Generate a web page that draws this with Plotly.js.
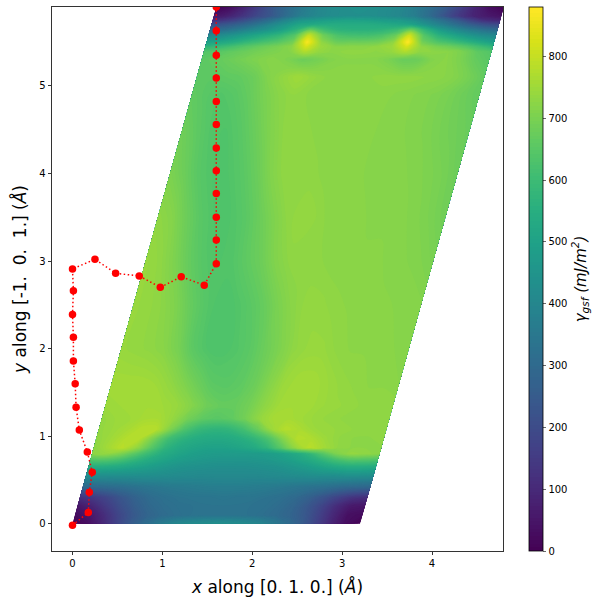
<!DOCTYPE html>
<html><head><meta charset="utf-8">
<script src="https://cdn.plot.ly/plotly-3.0.1.min.js"></script>
<style>html,body{margin:0;padding:0;background:#fff}</style></head>
<body><div id="chart" style="width:603px;height:605px"></div>
<script>
// Grid of the energy surface: fractional position along the first lattice vector, height along the second
const uFrac = [0,.05,.1,.15,.2,.25,.3,.35,.4,.45,.5,.55,.6,.65,.7,.75,.8,.85,.9,.95,1];
const yLevels = [0,.1,.2,.3,.42,.55,.65,.73,.8,.87,.97,1.08,1.2,1.35,1.6,2,2.5,3,3.5,4,4.5,4.9,5.1,5.3,5.39,5.45,5.5,5.58,5.64,5.7,5.75,5.8,5.9];
const latticeA = 3.2, latticeShear = 1.6, latticeHeight = 5.9;
const gsfValues = [
[0,30,90,170,250,310,360,400,420,430,440,430,420,400,360,310,250,170,90,30,0],
[25,50,110,180,240,280,305,320,330,335,335,335,330,320,305,280,240,170,95,35,25],
[50,90,150,210,260,295,315,325,330,335,335,335,330,325,310,285,240,180,110,60,50],
[120,150,190,240,280,310,325,335,340,340,345,340,340,330,320,300,265,220,170,130,115],
[290,300,310,320,335,345,355,360,365,370,370,370,365,360,350,340,330,320,305,295,290],
[430,430,430,430,430,425,420,415,410,410,410,410,410,415,420,425,430,430,435,435,430],
[540,540,530,510,490,470,450,440,435,430,430,430,435,440,455,475,500,525,540,540,535],
[640,640,620,580,540,510,485,470,460,455,455,455,460,475,495,525,565,610,640,640,630],
[725,735,705,650,590,540,510,490,480,475,475,475,480,495,525,570,640,705,735,730,720],
[725,755,785,735,650,570,530,510,500,500,510,530,570,650,735,785,755,730,725,725,725],
[730,750,775,780,695,610,565,540,530,530,545,575,630,715,780,770,745,730,725,725,730],
[735,745,760,780,780,705,630,585,570,575,610,670,745,780,765,745,740,735,730,730,730],
[735,745,750,760,760,735,690,660,650,660,690,735,760,760,750,740,735,730,730,730,730],
[745,750,755,755,750,740,715,685,670,670,690,725,750,755,755,745,740,735,730,730,730],
[755,755,755,750,735,710,680,655,650,660,680,715,745,755,755,745,735,730,725,725,720],
[740,735,730,720,695,655,635,630,640,655,680,705,730,740,740,730,725,725,725,720,720],
[740,735,725,705,670,645,630,635,650,670,700,722,735,735,728,725,722,722,720,720,715],
[740,730,705,670,645,635,640,660,680,710,728,732,728,722,722,722,722,718,715,710,700],
[730,715,680,650,635,635,650,675,705,728,738,732,722,722,722,718,718,716,710,700,685],
[705,680,650,635,635,650,675,710,732,732,728,722,722,722,718,718,716,712,705,695,680],
[685,660,640,635,650,675,705,726,732,726,722,722,722,722,718,716,712,706,695,685,675],
[665,650,640,650,670,698,720,732,726,722,722,722,722,722,720,716,712,706,695,680,665],
[655,655,660,665,680,712,732,750,735,725,725,725,725,730,730,730,725,722,712,692,665],
[655,665,680,695,710,718,705,680,692,712,718,718,718,702,675,678,712,722,702,670,650],
[640,650,665,680,695,705,715,770,735,722,730,730,725,735,770,730,725,720,700,660,640],
[570,590,620,650,675,695,720,825,745,720,720,720,730,745,825,730,700,680,650,610,570],
[500,520,550,590,620,650,690,870,730,680,680,680,690,730,880,690,640,610,570,530,490],
[400,420,460,500,540,580,640,800,680,625,610,610,625,670,810,640,560,510,460,420,400],
[300,325,365,410,450,500,570,670,600,565,560,560,570,600,680,570,480,420,370,330,300],
[210,240,280,330,390,450,510,530,540,540,540,540,530,520,500,440,380,320,260,215,190],
[110,150,200,260,320,390,450,470,490,500,500,495,480,470,440,380,320,250,170,110,90],
[50,80,130,190,240,310,370,400,420,430,430,430,420,400,370,310,230,150,90,60,40],
[0,30,90,170,250,310,360,400,420,430,440,430,420,400,360,310,250,170,90,30,0]
];
const pathX = [0,.176,.187,.22,.165,.076,.04,.03,.01,.01,0,.01,0,.25,.48,.743,.977,1.21,1.466,1.6,1.6,1.6,1.6,1.6,1.6,1.6,1.6,1.6,1.6,1.6,1.6];
const pathY = [-.015,.13,.36,.59,.82,1.07,1.33,1.6,1.86,2.13,2.39,2.66,2.91,3.02,2.86,2.83,2.70,2.82,2.725,2.97,3.24,3.5,3.77,4.03,4.29,4.56,4.82,5.09,5.35,5.63,5.9];
const colorbarTicks = [0,100,200,300,400,500,600,700,800];

const gridX = yLevels.map(y => uFrac.map(u => u*latticeA + y/latticeHeight*latticeShear));
const gridY = yLevels.map(y => uFrac.map(() => y));
const hiddenAxis = {showgrid:false,minorgridcount:0,showticklabels:'none',showline:false,startline:false,endline:false,smoothing:0};
const FONT = 'DejaVu Sans';
const traces = [
 {type:'carpet',carpet:'slip',a:uFrac,b:yLevels,x:gridX,y:gridY,aaxis:hiddenAxis,baxis:hiddenAxis,hoverinfo:'skip'},
 {type:'contourcarpet',carpet:'slip',a:uFrac,b:yLevels,z:gsfValues,autocontour:false,
  contours:{start:0,end:880,size:6,coloring:'fill',showlines:false},line:{width:0},
  colorscale:'Viridis',zmin:0,zmax:880,
  colorbar:{thickness:14,len:1,lenmode:'fraction',x:1.0576,xanchor:'left',xpad:0,ypad:0,y:0.5,yanchor:'middle',
   tickmode:'array',tickvals:colorbarTicks,ticks:'outside',ticklen:3.5,tickwidth:.8,tickfont:{family:FONT,size:10,color:'#000'},
   outlinewidth:.8,outlinecolor:'#000',
   title:{text:'<i>γ<sub>gsf</sub> (mJ/m<sup>2</sup>)</i>',side:'right',font:{family:FONT,size:15,color:'#000'}}}},
 {type:'scatter',mode:'lines+markers',x:pathX,y:pathY,line:{color:'#ff0000',dash:'1.5px,2.5px',width:1.5},marker:{color:'#ff0000',size:7.5},showlegend:false}
];
const axisBase = {showgrid:false,zeroline:false,showline:true,mirror:true,linecolor:'#000',linewidth:.8,ticks:'outside',ticklen:3.5,tickwidth:.8,tickcolor:'#000',tickfont:{family:FONT,size:10,color:'#000'},automargin:false};
const layout = {
 width:603,height:605,margin:{l:52,r:100,t:7,b:54},paper_bgcolor:'#fff',plot_bgcolor:'#fff',showlegend:false,
 font:{family:FONT},
 xaxis:Object.assign({},axisBase,{range:[-.228,4.79],dtick:1,tick0:0,title:{text:'<i>x</i> along [0. 1. 0.] (<i>Å</i>)',font:{family:FONT,size:17,color:'#000'},standoff:12}}),
 yaxis:Object.assign({},axisBase,{range:[-.31,5.9],dtick:1,tick0:0,title:{text:'<i>y</i> along [-1.  0.  1.] (<i>Å</i>)',font:{family:FONT,size:17,color:'#000'},standoff:8}})
};
Plotly.newPlot('chart',traces,layout,{displayModeBar:false,staticPlot:true});
</script></body></html>
